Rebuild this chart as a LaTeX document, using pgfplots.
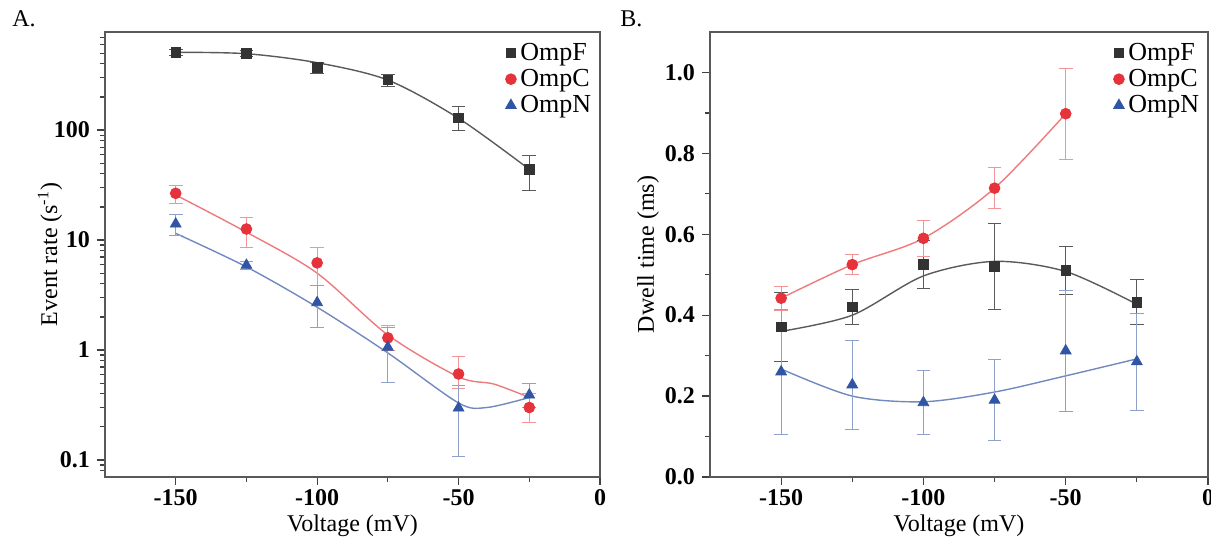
\documentclass[border=0pt]{standalone}
\usepackage{fontspec}
\setmainfont{Liberation Serif}
\usepackage{pgfplots}
\usepackage{pgfplotstable}
\pgfplotsset{compat=1.18}

\definecolor{cF}{HTML}{333333}
\definecolor{cFl}{HTML}{5A5A5A}
\definecolor{cC}{HTML}{E5323B}
\definecolor{cCl}{HTML}{EE7A7C}
\definecolor{cN}{HTML}{2F55A4}
\definecolor{cNl}{HTML}{7189BE}

% event rate: x, y, err+, err-
\pgfplotstableread{
x y ep em
-150 510 35 35
-125 500 35 35
-100 370 45 45
-75 285 35 35
-50 129 36 29
-25 44 15 15.5
}\rateF
\pgfplotstableread{
x y ep em
-150 26.6 5 5
-125 12.6 3.6 4.1
-100 6.2 2.3 2.3
-75 1.29 0.37 0.3
-50 0.605 0.26 0.16
-25 0.30 0.1 0.08
}\rateC
\pgfplotstableread{
x y ep em
-150 14 2.9 3.1
-125 5.9 0.5 0.5
-100 2.7 1.2 1.1
-75 1.06 0.55 0.55
-50 0.297 0.18 0.19
-25 0.39 0.11 0.09
}\rateN
% fitted curves
\pgfplotstableread{
x y
-150 510
-125 495
-100 410
-75 285
-50 128
-25 44
}\fitrateF
\pgfplotstableread{
x y
-150 25.7
-125 11.8
-100 5.0
-75 1.37
-50 0.57
-37.5 0.49
-25 0.37
}\fitrateC
\pgfplotstableread{
x y
-150 11.5
-125 5.7
-100 2.45
-75 0.94
-50 0.33
-40 0.30
-25 0.37
}\fitrateN

% dwell time
\pgfplotstableread{
x y e
-150 0.371 0.085
-125 0.420 0.043
-100 0.525 0.06
-75 0.520 0.107
-50 0.510 0.06
-25 0.432 0.055
}\dwellF
\pgfplotstableread{
x y e
-150 0.442 0.03
-125 0.525 0.025
-100 0.590 0.045
-75 0.714 0.05
-50 0.898 0.113
}\dwellC
\pgfplotstableread{
x y e
-150 0.260 0.155
-125 0.228 0.11
-100 0.184 0.08
-75 0.190 0.10
-50 0.312 0.15
-25 0.285 0.12
}\dwellN
\pgfplotstableread{
x y
-150 0.360
-125 0.400
-100 0.497
-75 0.533
-50 0.508
-25 0.427
}\fitdwellF
\pgfplotstableread{
x y
-150 0.442
-125 0.525
-100 0.590
-75 0.714
-50 0.898
}\fitdwellC
\pgfplotstableread{
x y
-150 0.267
-125 0.200
-100 0.186
-75 0.210
-50 0.250
-25 0.292
}\fitdwellN

\pgfplotsset{
  panel/.style={
    scale only axis,
    anchor=south west,
    height=222.5pt,
    xmin=-175, xmax=0,
    xtick={-150,-100,-50,0},
    minor xtick={-125,-75,-25},
    axis line style={draw=black!65, line width=0.9pt},
    tick style={black!75, line width=0.6pt},
    tick align=outside,
    xtick pos=bottom, ytick pos=left,
    major tick length=4pt, minor tick length=2.5pt,
    tick label style={font=\fontsize{12}{14}\selectfont\bfseries},
    xticklabel style={yshift=1.5pt},
    /pgf/number format/assume math mode=true,
    label style={font=\fontsize{12}{14}\selectfont},
    xlabel={Voltage (mV)},
    xlabel style={at={([yshift=-24.5pt]axis description cs:0.5,0)}, anchor=center},
    legend style={draw=none, fill=none, at={(0.995,0.99)}, anchor=north east,
      font=\fontsize{13}{14}\selectfont, row sep=-1pt, inner sep=1pt},
    legend cell align=left,
    error bars/y dir=both,
    error bars/y explicit,
  },
  sF/.style={only marks, mark=square*, mark size=2.4pt, color=cF,
    error bars/error bar style={cFl, line width=0.5pt},
    error bars/error mark options={rotate=90, mark size=3.4pt, cFl, line width=0.5pt}},
  sC/.style={only marks, mark=*, mark size=2.7pt, color=cC,
    error bars/error bar style={cCl!80, line width=0.5pt},
    error bars/error mark options={rotate=90, mark size=3.4pt, cCl!80, line width=0.5pt}},
  sN/.style={only marks, mark=triangle*, mark size=3.1pt, color=cN,
    error bars/error bar style={cNl!80, line width=0.5pt},
    error bars/error mark options={rotate=90, mark size=3.4pt, cNl!80, line width=0.5pt}},
}

\begin{document}
\begin{tikzpicture}[x=1pt,y=1pt]
\useasboundingbox (0,0) rectangle (605.5,271);
\node[anchor=north west, font=\fontsize{12}{14}\selectfont, inner sep=0pt] at (6,266) {A.};
\node[anchor=north west, font=\fontsize{12}{14}\selectfont, inner sep=0pt] at (310,266) {B.};

\begin{axis}[panel,
  at={(52.5pt,32.5pt)}, width=247.5pt,
  ymode=log, ymin=0.07, ymax=780,
  ytick={0.1,1,10,100}, yticklabels={0.1,1,10,100},
  minor ytick={0.08,0.09,0.2,0.3,0.4,0.5,0.6,0.7,0.8,0.9,2,3,4,5,6,7,8,9,20,30,40,50,60,70,80,90,200,300,400,500,600,700},
  ylabel={Event rate (s\textsuperscript{-1})},
  ylabel style={at={([xshift=-27.5pt]axis description cs:0,0.5)}, anchor=center},
]
\addplot[cFl, line width=0.7pt, smooth, forget plot] table {\fitrateF};
\addplot[cCl, line width=0.7pt, smooth, forget plot] table {\fitrateC};
\addplot[cNl, line width=0.7pt, smooth, forget plot] table {\fitrateN};
\addplot[sF] table[x=x, y=y, y error plus=ep, y error minus=em] {\rateF};
\addlegendentry{OmpF}
\addplot[sC] table[x=x, y=y, y error plus=ep, y error minus=em] {\rateC};
\addlegendentry{OmpC}
\addplot[sN] table[x=x, y=y, y error plus=ep, y error minus=em] {\rateN};
\addlegendentry{OmpN}
\end{axis}

\begin{axis}[panel,
  at={(355pt,32.5pt)}, width=249pt,
  ymin=0, ymax=1.1,
  ytick={0,0.2,...,1.0},
  minor ytick={0.1,0.3,0.5,0.7,0.9},
  yticklabel style={/pgf/number format/.cd, fixed, fixed zerofill, precision=1},
  ylabel={Dwell time (ms)},
  ylabel style={at={([xshift=-31pt]axis description cs:0,0.5)}, anchor=center},
]
\addplot[cFl, line width=0.7pt, smooth, forget plot] table {\fitdwellF};
\addplot[cCl, line width=0.7pt, smooth, forget plot] table {\fitdwellC};
\addplot[cNl, line width=0.7pt, smooth, forget plot] table {\fitdwellN};
\addplot[sF] table[x=x, y=y, y error=e] {\dwellF};
\addlegendentry{OmpF}
\addplot[sC] table[x=x, y=y, y error=e] {\dwellC};
\addlegendentry{OmpC}
\addplot[sN] table[x=x, y=y, y error=e] {\dwellN};
\addlegendentry{OmpN}
\end{axis}
\end{tikzpicture}
\end{document}
